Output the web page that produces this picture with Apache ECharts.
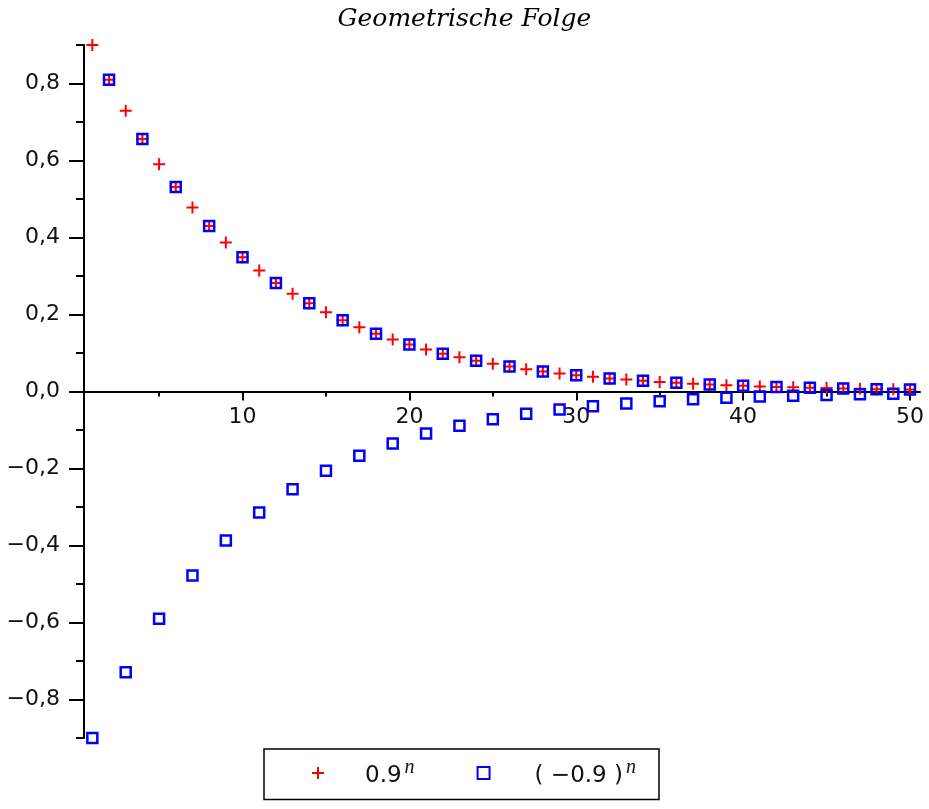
<!DOCTYPE html>
<html>
<head>
<meta charset="utf-8">
<title>Geometrische Folge</title>
<script src="https://cdn.jsdelivr.net/npm/echarts@6/dist/echarts.min.js"></script>
<style>
  html, body { margin: 0; padding: 0; background: #fff; }
  #chart { width: 929px; height: 809px; }
</style>
</head>
<body>
<div id="chart"></div>
<script>
  // n = 1..50
  const nValues = [1, 2, 3, 4, 5, 6, 7, 8, 9, 10, 11, 12, 13, 14, 15, 16, 17, 18, 19, 20,
    21, 22, 23, 24, 25, 26, 27, 28, 29, 30, 31, 32, 33, 34, 35, 36, 37, 38, 39, 40,
    41, 42, 43, 44, 45, 46, 47, 48, 49, 50];

  // 0.9^n
  const posValues = [0.900, 0.810, 0.729, 0.656, 0.590, 0.531, 0.478, 0.430, 0.387, 0.349,
    0.314, 0.282, 0.254, 0.229, 0.206, 0.185, 0.167, 0.150, 0.135, 0.122,
    0.109, 0.098, 0.089, 0.080, 0.072, 0.065, 0.058, 0.052, 0.047, 0.042,
    0.038, 0.034, 0.031, 0.028, 0.025, 0.023, 0.020, 0.018, 0.016, 0.015,
    0.013, 0.012, 0.011, 0.010, 0.009, 0.008, 0.007, 0.006, 0.006, 0.005];

  // (-0.9)^n
  const altValues = [-0.900, 0.810, -0.729, 0.656, -0.590, 0.531, -0.478, 0.430, -0.387, 0.349,
    -0.314, 0.282, -0.254, 0.229, -0.206, 0.185, -0.167, 0.150, -0.135, 0.122,
    -0.109, 0.098, -0.089, 0.080, -0.072, 0.065, -0.058, 0.052, -0.047, 0.042,
    -0.038, 0.034, -0.031, 0.028, -0.025, 0.023, -0.020, 0.018, -0.016, 0.015,
    -0.013, 0.012, -0.011, 0.010, -0.009, 0.008, -0.007, 0.006, -0.006, 0.005];

  const xMajorTicks = [10, 20, 30, 40, 50];
  const xMinorTicks = [5, 15, 25, 35, 45];
  const yMajorTicks = [-0.8, -0.6, -0.4, -0.2, 0, 0.2, 0.4, 0.6, 0.8];
  const yMinorTicks = [-0.9, -0.7, -0.5, -0.3, -0.1, 0.1, 0.3, 0.5, 0.7, 0.9];

  const seriesNames = ['0.9^n', '( −0.9 )^n'];

  const plusPath = 'path://M0,5 H12 V7 H0 Z M5,0 H7 V12 H5 Z';
  const labelFont = { fontFamily: 'DejaVu Sans', fontSize: 22, color: '#111' };

  const gridTop = 45;
  const gridHeight = 693;
  // y-Bereich ist symmetrisch, die x-Achse liegt also mittig im Grid
  const xAxisOffset = -gridHeight / 2;

  const chart = echarts.init(document.getElementById('chart'), null, { renderer: 'canvas' });

  const option = {
    animation: false,
    backgroundColor: '#fff',
    title: {
      text: 'Geometrische Folge',
      left: 'center',
      top: 2,
      textStyle: { fontFamily: 'DejaVu Serif', fontStyle: 'italic', fontWeight: 'normal', fontSize: 25, color: '#000' }
    },
    grid: { left: 84, top: gridTop, right: 9, height: gridHeight, outerBoundsMode: 'none' },
    legend: {
      left: 264,
      top: 749,
      orient: 'horizontal',
      borderColor: '#000',
      borderWidth: 1.5,
      padding: [9, 18, 12, 48],
      itemWidth: 12,
      itemHeight: 12,
      itemGap: 57,
      data: [
        { name: seriesNames[0], icon: plusPath, itemStyle: { color: '#ff0000', borderWidth: 0 } },
        { name: seriesNames[1], icon: 'rect', itemStyle: { color: 'rgba(0,0,0,0)', borderColor: '#0000ff', borderWidth: 2 } }
      ],
      formatter: function (name) {
        const parts = name.split('^');
        const style = name === seriesNames[0] ? 'a' : 'b';
        return '{' + style + '|' + parts[0] + '}{s|' + parts[1] + '}';
      },
      textStyle: {
        color: '#000',
        rich: {
          a: { fontFamily: 'DejaVu Sans', fontSize: 23, color: '#111', padding: [6, 0, 0, 36], lineHeight: 30 },
          b: { fontFamily: 'DejaVu Sans', fontSize: 23, color: '#111', padding: [6, 0, 0, 40], lineHeight: 30 },
          s: { fontFamily: 'Liberation Serif', fontStyle: 'italic', fontSize: 20, color: '#111', verticalAlign: 'top', lineHeight: 10, padding: [0, 5, 0, 3] }
        }
      }
    },
    xAxis: [
      {
        type: 'value',
        min: 0.5,
        max: 50.6,
        position: 'bottom',
        offset: xAxisOffset,
        axisLine: { onZero: false, lineStyle: { color: '#000', width: 2 } },
        axisTick: { show: true, customValues: xMajorTicks, length: 9, lineStyle: { color: '#000', width: 2 } },
        axisLabel: Object.assign({ customValues: xMajorTicks, margin: 15 }, labelFont),
        splitLine: { show: false }
      },
      {
        type: 'value',
        min: 0.5,
        max: 50.6,
        position: 'bottom',
        offset: xAxisOffset,
        axisLine: { show: false, onZero: false },
        axisTick: { show: true, customValues: xMinorTicks, length: 5, lineStyle: { color: '#000', width: 2 } },
        axisLabel: { show: false },
        splitLine: { show: false }
      }
    ],
    yAxis: [
      {
        type: 'value',
        min: -0.9,
        max: 0.9,
        position: 'left',
        axisLine: { show: true, onZero: false, lineStyle: { color: '#000', width: 2 } },
        axisTick: { show: true, customValues: yMajorTicks, length: 15, lineStyle: { color: '#000', width: 2 } },
        axisLabel: Object.assign({
          customValues: yMajorTicks,
          margin: 24,
          formatter: function (v) {
            const s = Math.abs(v).toFixed(1).replace('.', ',');
            return v < -1e-9 ? '−' + s : s;
          }
        }, labelFont),
        splitLine: { show: false }
      },
      {
        type: 'value',
        min: -0.9,
        max: 0.9,
        position: 'left',
        axisLine: { show: false, onZero: false },
        axisTick: { show: true, customValues: yMinorTicks, length: 8, lineStyle: { color: '#000', width: 2 } },
        axisLabel: { show: false },
        splitLine: { show: false }
      }
    ],
    series: [
      {
        name: seriesNames[0],
        type: 'scatter',
        xAxisIndex: 0,
        yAxisIndex: 0,
        symbol: plusPath,
        symbolSize: 12,
        itemStyle: { color: '#ff0000', opacity: 1 },
        data: nValues.map((n, i) => [n, posValues[i]]),
        z: 3
      },
      {
        name: seriesNames[1],
        type: 'scatter',
        xAxisIndex: 0,
        yAxisIndex: 0,
        symbol: 'rect',
        symbolSize: 10,
        itemStyle: { color: 'rgba(0,0,0,0)', borderColor: '#0000ff', borderWidth: 2.5, opacity: 1 },
        data: nValues.map((n, i) => [n, altValues[i]]),
        z: 4
      }
    ]
  };

  chart.setOption(option);
</script>
</body>
</html>
